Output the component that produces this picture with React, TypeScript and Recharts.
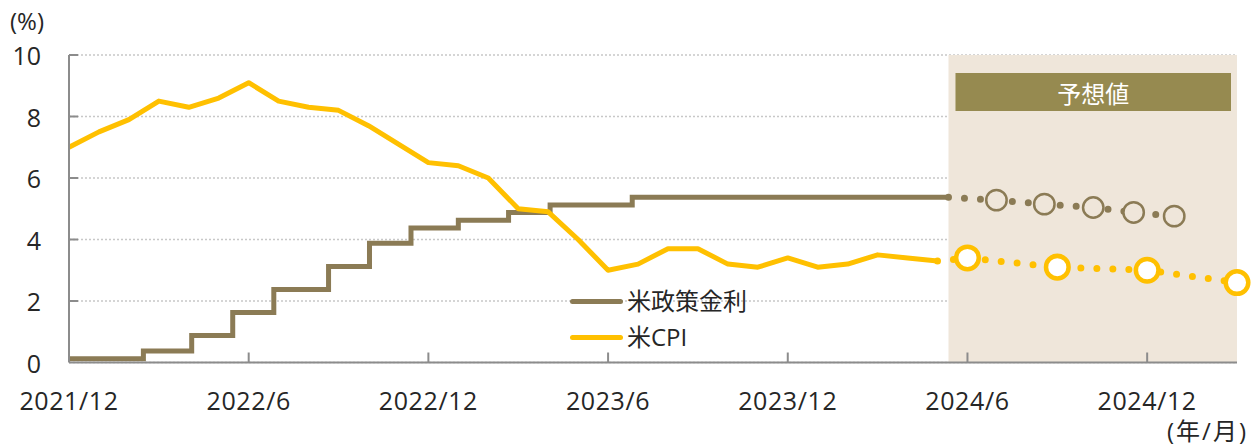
import React from 'react';
import {
  ComposedChart, Line, XAxis, YAxis, CartesianGrid, ReferenceArea, Legend,
} from 'recharts';

// ---- data ----
// CPI (YoY %, monthly, 2021/12 .. 2024/5)
const cpiMonths = [
  '2021/12', '2022/1', '2022/2', '2022/3', '2022/4', '2022/5', '2022/6', '2022/7', '2022/8', '2022/9', '2022/10', '2022/11', '2022/12',
  '2023/1', '2023/2', '2023/3', '2023/4', '2023/5', '2023/6', '2023/7', '2023/8', '2023/9', '2023/10', '2023/11', '2023/12',
  '2024/1', '2024/2', '2024/3', '2024/4', '2024/5',
];
const cpiValues = [
  7.0, 7.5, 7.9, 8.5, 8.3, 8.6, 9.1, 8.5, 8.3, 8.2, 7.7, 7.1, 6.5,
  6.4, 6.0, 5.0, 4.9, 4.0, 3.0, 3.2, 3.7, 3.7, 3.2, 3.1, 3.4,
  3.1, 3.2, 3.5, 3.4, 3.3,
];
// CPI forecast (quarterly)
const cpiForecastMonths = ['2024/5', '2024/6', '2024/9', '2024/12', '2025/3'];
const cpiForecastValues = [3.3, 3.4, 3.1, 3.0, 2.6];

// Policy rate (midpoint of target range, %), by decision date
const policyDates = [
  '2022-01-01', '2022-03-16', '2022-05-04', '2022-06-15', '2022-07-27', '2022-09-21', '2022-11-02',
  '2022-12-14', '2023-02-01', '2023-03-22', '2023-05-03', '2023-07-26', '2024-06-12',
];
const policyValues = [0.125, 0.375, 0.875, 1.625, 2.375, 3.125, 3.875, 4.375, 4.625, 4.875, 5.125, 5.375, 5.375];
// Policy rate forecast by meeting date
const policyForecastDates = ['2024-06-12', '2024-07-31', '2024-09-18', '2024-11-07', '2024-12-18', '2025-01-29'];
const policyForecastValues = [5.375, 5.28, 5.15, 5.04, 4.88, 4.76];

const forecastStart = '2024-06-12';
const forecastEnd = '2025/3';

const xTickMonths = ['2021/12', '2022/6', '2022/12', '2023/6', '2023/12', '2024/6', '2024/12'];
const yTicks = [0, 2, 4, 6, 8, 10];

const seriesNames = ['米政策金利', '米CPI'];

// ---- helpers: position on month axis (index 0 = end of 2021/12) ----
const monthIndex = (ym: string) => {
  const [y, m] = ym.split('/').map(Number);
  return (y - 2021) * 12 + (m - 12);
};
const dateIndex = (d: string) => {
  const [y, m, day] = d.split('-').map(Number);
  const dim = new Date(y, m, 0).getDate();
  return (y - 2022) * 12 + (m - 1) + (day - 1) / dim;
};

const cpiData = cpiMonths.map((m, i) => ({ x: monthIndex(m), v: cpiValues[i] }));
const cpiFcData = cpiForecastMonths.map((m, i) => ({ x: monthIndex(m), v: cpiForecastValues[i] }));
const policyData = policyDates.map((d, i) => ({ x: dateIndex(d), v: policyValues[i] }));
const policyFcData = policyForecastDates.map((d, i) => ({ x: dateIndex(d), v: policyForecastValues[i] }));

const BROWN = '#8b7b55';
const GOLD = '#ffc000';
const SHADE = '#efe6da';
const BOX = '#968a50';
const AXIS = '#8c8c8c';
const TEXT = '#262626';
const FONT = '"Open Sans", "Noto Sans CJK JP", sans-serif';

const XTick = (props: any) => {
  const { x, y, payload } = props;
  const label = xTickMonths[xTickMonths.map(monthIndex).indexOf(payload.value)];
  return (
    <g>
      {payload.value !== 0 && (
        <line x1={x} x2={x} y1={y} y2={y - 10} stroke={AXIS} strokeWidth={2} />
      )}
      <text x={x} y={y + 37} textAnchor="middle" dominantBaseline="central" fontSize={25} letterSpacing={0.6} fill={TEXT} fontFamily={FONT}>
        {label}
      </text>
    </g>
  );
};

const YTick = (props: any) => {
  const { x, y, payload } = props;
  return (
    <g>
      {payload.value !== 0 && (
        <line x1={x} x2={x + 9} y1={y} y2={y} stroke={AXIS} strokeWidth={2} />
      )}
      <text x={x - 28} y={y} textAnchor="end" dominantBaseline="central" fontSize={25} fill={TEXT} fontFamily={FONT}>
        {payload.value}
      </text>
    </g>
  );
};

const ForecastLabel = (props: any) => {
  const { viewBox } = props;
  const { x, y, width } = viewBox;
  const bx = x + 7;
  const by = y + 18;
  const bw = width - 13;
  const bh = 38;
  return (
    <g>
      <rect x={bx} y={by} width={bw} height={bh} fill={BOX} />
      <text x={bx + bw / 2} y={by + bh / 2 + 1} textAnchor="middle" dominantBaseline="central" fontSize={24} fill="#fff" fontFamily={FONT}>
        予想値
      </text>
    </g>
  );
};

const cpiDot = (props: any) => {
  const { cx, cy, index } = props;
  if (index === 0) return <g key={`c${index}`} />;
  return <circle key={`c${index}`} cx={cx} cy={cy} r={11.3} fill="#fff" stroke={GOLD} strokeWidth={4.5} />;
};
const policyDot = (props: any) => {
  const { cx, cy, index } = props;
  if (index === 0) return <g key={`p${index}`} />;
  return <circle key={`p${index}`} cx={cx} cy={cy} r={10.2} fill={SHADE} stroke={BROWN} strokeWidth={2.5} />;
};

const LegendContent = () => (
  <div style={{ fontFamily: FONT, fontSize: 24, color: TEXT, lineHeight: '36px' }}>
    {seriesNames.map((n, i) => (
      <div key={n} style={{ display: 'flex', alignItems: 'center', height: 36 }}>
        <span style={{ display: 'inline-block', width: 53, height: 5, borderRadius: 3, background: i === 0 ? BROWN : GOLD, marginRight: 4 }} />
        <span>{n}</span>
      </div>
    ))}
  </div>
);

export default function App() {
  return (
    <div style={{ position: 'absolute', left: 0, top: 0, width: 1252, height: 445, background: '#fff', fontFamily: FONT }}>
      <ComposedChart
        width={1252}
        height={445}
        margin={{ top: 55, right: 15, bottom: 0, left: 0 }}
        style={{ overflow: 'visible' }}
      >
        <ReferenceArea
          x1={dateIndex(forecastStart)}
          x2={monthIndex(forecastEnd)}
          y1={0}
          y2={10}
          fill={SHADE}
          fillOpacity={1}
          stroke="none"
          ifOverflow="visible"
          label={<ForecastLabel />}
        />
        <CartesianGrid vertical={false} stroke="#c8c8c8" strokeDasharray="2 2" strokeWidth={1.5} />
        <XAxis
          type="number"
          dataKey="x"
          domain={[0, monthIndex(forecastEnd)]}
          ticks={xTickMonths.map(monthIndex)}
          axisLine={{ stroke: AXIS, strokeWidth: 2 }}
          tickLine={false}
          tickSize={0}
          tickMargin={0}
          height={82.5}
          tick={<XTick />}
          interval={0}
        />
        <YAxis
          type="number"
          domain={[0, 10]}
          ticks={yTicks}
          width={69}
          axisLine={{ stroke: AXIS, strokeWidth: 2 }}
          tickLine={false}
          tickSize={0}
          tickMargin={0}
          tick={<YTick />}
          interval={0}
        />
        <Line
          data={policyData}
          dataKey="v"
          type="stepAfter"
          stroke={BROWN}
          strokeWidth={5}
          dot={false}
          isAnimationActive={false}
          name={seriesNames[0]}
        />
        <Line
          data={cpiData}
          dataKey="v"
          type="linear"
          stroke={GOLD}
          strokeWidth={5}
          strokeLinejoin="round"
          dot={false}
          isAnimationActive={false}
          name={seriesNames[1]}
        />
        <Line
          data={policyFcData}
          dataKey="v"
          type="linear"
          stroke={BROWN}
          strokeWidth={7}
          strokeDasharray="0 16"
          strokeLinecap="round"
          dot={policyDot}
          isAnimationActive={false}
          legendType="none"
        />
        <Line
          data={cpiFcData}
          dataKey="v"
          type="linear"
          stroke={GOLD}
          strokeWidth={7}
          strokeDasharray="0 16"
          strokeLinecap="round"
          dot={cpiDot}
          isAnimationActive={false}
          legendType="none"
        />
        <Legend
          layout="vertical"
          align="center"
          verticalAlign="middle"
          content={<LegendContent />}
          wrapperStyle={{ position: 'absolute', left: 570, top: 283, width: 'auto', height: 'auto' }}
        />
      </ComposedChart>
      <div style={{ position: 'absolute', left: 10, top: 5, fontSize: 24, color: TEXT, lineHeight: '32px' }}>(%)</div>
      <div style={{ position: 'absolute', left: 1167, top: 415, fontSize: 24, letterSpacing: 2, color: TEXT, lineHeight: '32px' }}>(年/月)</div>
    </div>
  );
}
